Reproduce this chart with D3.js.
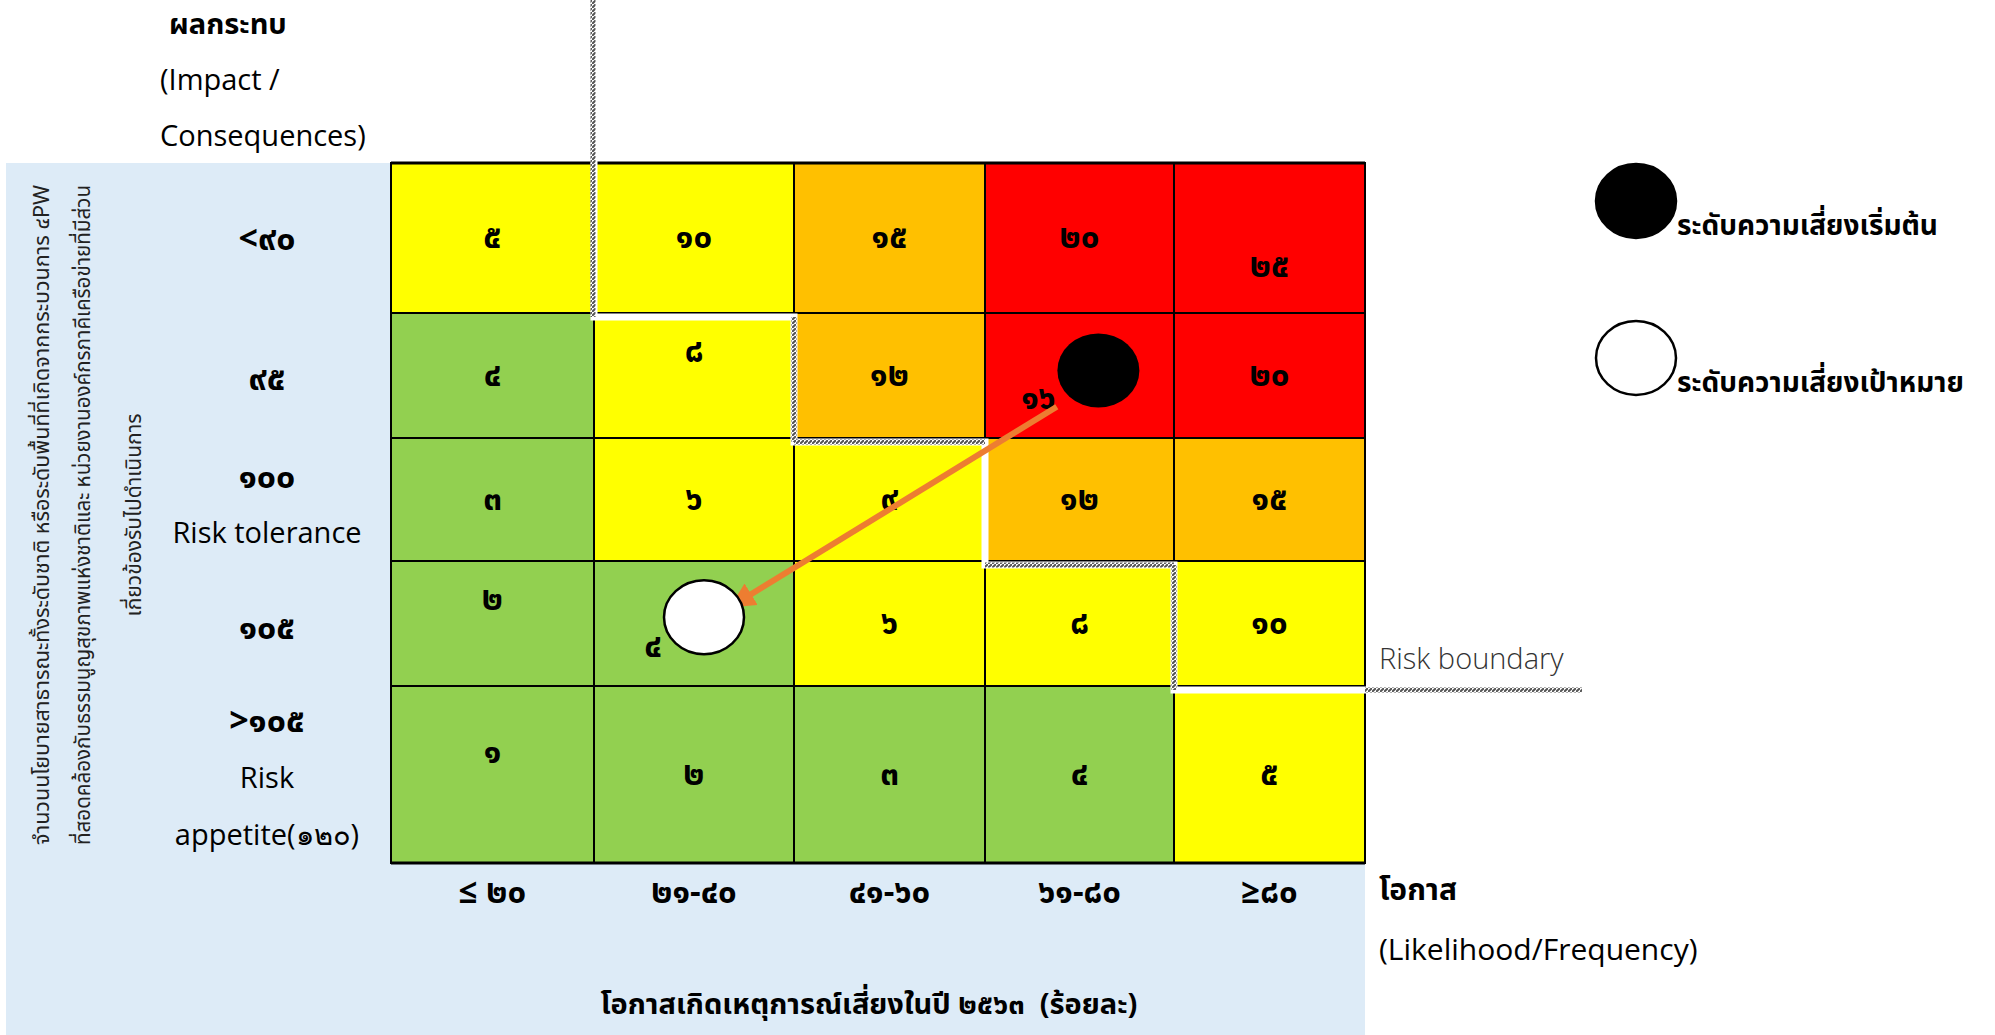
<!DOCTYPE html>
<html>
<head>
<meta charset="utf-8">
<script src="https://cdn.jsdelivr.net/npm/d3@7"></script>
<style>
body { margin: 0; background: #fff; }
svg { display: block; }
</style>
</head>
<body>
<script>
// Data read from the risk matrix
var likelihoodLabels = ["≤ ๒๐", "๒๑-๔๐", "๔๑-๖๐", "๖๑-๘๐", "≥๘๐"];
var impactLabels = [["<๙๐"], ["๙๕"], ["๑๐๐", "Risk tolerance"], ["๑๐๕"], [">๑๐๕", "Risk", "appetite(๑๒๐)"]];
var scoreRows = [
    ["๕", "๑๐", "๑๕", "๒๐", "๒๕"],
    ["๔", "๘", "๑๒", "๑๖", "๒๐"],
    ["๓", "๖", "๙", "๑๒", "๑๕"],
    ["๒", "๔", "๖", "๘", "๑๐"],
    ["๑", "๒", "๓", "๔", "๕"]
];
var levelRows = [
    ["medium", "medium", "high", "veryhigh", "veryhigh"],
    ["low", "medium", "high", "veryhigh", "veryhigh"],
    ["low", "medium", "medium", "high", "high"],
    ["low", "low", "medium", "medium", "medium"],
    ["low", "low", "low", "low", "medium"]
];
// risk positions in (likelihood column, impact row) units
var startRisk = { col: 3.60, row: 1.46 };
var targetRisk = { col: 1.55, row: 3.45 };
var arrowFrom = { col: 3.38, row: 1.75 };
var arrowTo = { col: 1.70, row: 3.35 };
// corners of the risk boundary staircase
var boundarySteps = [[1, 1], [2, 2], [3, 3], [4, 4]];

var yAxisText = [
    "จำนวนนโยบายสาธารณะทั้งระดับชาติ หรือระดับพื้นที่ที่เกิดจากกระบวนการ ๔PW",
    "ที่สอดคล้องกับธรรมนูญสุขภาพแห่งชาติและ หน่วยงานองค์กรภาคีเครือข่ายที่มีส่วน",
    "เกี่ยวข้องรับไปดำเนินการ"
];

// label nudges (pixels) for cells whose number is not centred
var labelNudge = { "0-4": [0, 29], "1-1": [0, -24], "1-3": [-41, 23], "3-0": [0, -24], "3-1": [-41, 23], "4-0": [0, -22] };

var levelColor = { low: "#92D050", medium: "#FFFF00", high: "#FFC000", veryhigh: "#FF0000" };

var W = 1995, H = 1035;
var thaiFont = "'Noto Sans Thai', 'Noto Sans', 'Open Sans', sans-serif";
var latinFont = "'Open Sans', 'Noto Sans', sans-serif";

var svg = d3.select("body").append("svg")
    .attr("width", W)
    .attr("height", H);

// piecewise scales: column and row boundaries of the matrix
var x = d3.scaleLinear().domain([0, 1, 2, 3, 4, 5]).range([391, 594, 794, 985, 1174, 1365]);
var y = d3.scaleLinear().domain([0, 1, 2, 3, 4, 5]).range([163, 313, 438, 561, 686, 863]);

// hatch pattern used for the boundary line
var defs = svg.append("defs");
var hatch = defs.append("pattern")
    .attr("id", "hatch")
    .attr("patternUnits", "userSpaceOnUse")
    .attr("width", 4).attr("height", 4);
hatch.append("rect").attr("width", 4).attr("height", 4).attr("fill", "#fff");
hatch.append("path").attr("d", "M-1,5 L5,-1").attr("stroke", "#555").attr("stroke-width", 2);

defs.append("marker")
    .attr("id", "arrowhead")
    .attr("viewBox", "0 0 10 10")
    .attr("refX", 8).attr("refY", 5)
    .attr("markerWidth", 4.2).attr("markerHeight", 4.2)
    .attr("orient", "auto")
    .append("path")
    .attr("d", "M0,0 L10,5 L0,10 z")
    .attr("fill", "#ED7D31");

// light blue background panel
svg.append("rect")
    .attr("x", 6).attr("y", y(0))
    .attr("width", x(5) - 6).attr("height", H - y(0))
    .attr("fill", "#DDEBF7");

// cells
var cells = [];
scoreRows.forEach(function (row, r) {
    row.forEach(function (s, c) {
        cells.push({ r: r, c: c, score: s, level: levelRows[r][c] });
    });
});

var cell = svg.selectAll("g.cell")
    .data(cells)
    .enter().append("g")
    .attr("class", "cell");

cell.append("rect")
    .attr("x", function (d) { return x(d.c); })
    .attr("y", function (d) { return y(d.r); })
    .attr("width", function (d) { return x(d.c + 1) - x(d.c); })
    .attr("height", function (d) { return y(d.r + 1) - y(d.r); })
    .attr("fill", function (d) { return levelColor[d.level]; })
    .attr("stroke", "#000")
    .attr("stroke-width", 2);

cell.append("text")
    .attr("x", function (d) {
        var n = labelNudge[d.r + "-" + d.c] || [0, 0];
        return (x(d.c) + x(d.c + 1)) / 2 + n[0];
    })
    .attr("y", function (d) {
        var n = labelNudge[d.r + "-" + d.c] || [0, 0];
        return (y(d.r) + y(d.r + 1)) / 2 + n[1];
    })
    .attr("text-anchor", "middle")
    .attr("dominant-baseline", "central")
    .style("font-family", thaiFont)
    .style("font-weight", "bold")
    .style("font-size", "33px")
    .text(function (d) { return d.score; });

// heavier top and bottom edges of the matrix
[0, 5].forEach(function (i) {
    svg.append("line")
        .attr("x1", x(0)).attr("x2", x(5))
        .attr("y1", y(i)).attr("y2", y(i))
        .attr("stroke", "#000").attr("stroke-width", 3);
});

// risk boundary: white line with grey hatching
var bx = function (c) { return x(c); };
var by = function (r) { return y(r) + 4; };
var boundaryPts = [[bx(1), 0]];
boundarySteps.forEach(function (s, i) {
    boundaryPts.push([bx(s[0]), by(s[1])]);
    var next = boundarySteps[i + 1];
    if (next) boundaryPts.push([bx(next[0]), by(s[1])]);
});
boundaryPts.push([x(5) + 217, by(4)]);

var line = d3.line();
svg.append("path")
    .attr("d", line(boundaryPts))
    .attr("fill", "none")
    .attr("stroke", "#fff")
    .attr("stroke-width", 7);

// hatched segments (vertical parts and some horizontal parts)
var hatched = [
    [[bx(1) - 1, 0], [bx(1) - 1, by(1)]],
    [[bx(2), by(1)], [bx(2), by(2)]],
    [[bx(2), by(2)], [bx(3), by(2)]],
    [[bx(3), by(3)], [bx(4), by(3)]],
    [[bx(4), by(3)], [bx(4), by(4)]],
    [[x(5), by(4)], [x(5) + 217, by(4)]]
];
hatched.forEach(function (seg) {
    svg.append("path")
        .attr("d", line(seg))
        .attr("fill", "none")
        .attr("stroke", "url(#hatch)")
        .attr("stroke-width", 5);
});

// arrow from initial to target risk
svg.append("line")
    .attr("x1", x(arrowFrom.col)).attr("y1", y(arrowFrom.row))
    .attr("x2", x(arrowTo.col)).attr("y2", y(arrowTo.row))
    .attr("stroke", "#ED7D31")
    .attr("stroke-width", 6)
    .attr("marker-end", "url(#arrowhead)");

// risk points
svg.append("ellipse")
    .attr("cx", x(startRisk.col)).attr("cy", y(startRisk.row))
    .attr("rx", 41).attr("ry", 37)
    .attr("fill", "#000");

svg.append("ellipse")
    .attr("cx", x(targetRisk.col)).attr("cy", y(targetRisk.row))
    .attr("rx", 40).attr("ry", 37)
    .attr("fill", "#fff")
    .attr("stroke", "#000")
    .attr("stroke-width", 2.5);

// impact labels (left column)
var impactLabelY = [[239], [379], [477, 531], [628], [721, 776, 833]];
impactLabels.forEach(function (lines, r) {
    lines.forEach(function (t, j) {
        var latin = /[a-z]/.test(t);
        svg.append("text")
            .attr("x", 267)
            .attr("y", impactLabelY[r][j])
            .attr("text-anchor", "middle")
            .attr("dominant-baseline", "central")
            .style("font-family", latin ? latinFont : thaiFont)
            .style("font-weight", latin ? "normal" : "bold")
            .style("font-size", latin ? "29px" : "34px")
            .text(t);
    });
});

// likelihood labels (bottom)
svg.selectAll("text.xlab")
    .data(likelihoodLabels)
    .enter().append("text")
    .attr("class", "xlab")
    .attr("x", function (d, i) { return (x(i) + x(i + 1)) / 2; })
    .attr("y", 893)
    .attr("text-anchor", "middle")
    .attr("dominant-baseline", "central")
    .style("font-family", thaiFont)
    .style("font-weight", "bold")
    .style("font-size", "33px")
    .text(function (d) { return d; });

// rotated y-axis description
svg.selectAll("text.ydesc")
    .data(yAxisText)
    .enter().append("text")
    .attr("class", "ydesc")
    .attr("transform", function (d, i) { return "translate(" + [42, 83, 134][i] + ",515) rotate(-90)"; })
    .attr("text-anchor", "middle")
    .attr("dominant-baseline", "central")
    .attr("textLength", function (d, i) { return i < 2 ? 660 : null; })
    .attr("lengthAdjust", "spacingAndGlyphs")
    .style("font-family", thaiFont)
    .style("font-size", "21px")
    .style("fill", "#222")
    .text(function (d) { return d; });

// axis titles
function addText(t, px, py, opts) {
    svg.append("text")
        .attr("x", px).attr("y", py)
        .attr("text-anchor", opts.anchor || "start")
        .attr("dominant-baseline", "central")
        .style("font-family", opts.font || latinFont)
        .style("font-weight", opts.weight || "normal")
        .style("font-size", (opts.size || 29) + "px")
        .style("fill", opts.fill || "#000")
        .style("white-space", "pre")
        .text(t);
}
addText("ผลกระทบ", 169, 25, { font: thaiFont, weight: "bold", size: 29 });
addText("(Impact /", 160, 78, {});
addText("Consequences)", 160, 134, {});
addText("โอกาสเกิดเหตุการณ์เสี่ยงในปี ๒๕๖๓  (ร้อยละ)", 869, 1005, { font: thaiFont, weight: "bold", anchor: "middle", size: 29 });
addText("โอกาส", 1379, 891, { font: thaiFont, weight: "bold", size: 30 });
addText("(Likelihood/Frequency)", 1379, 948, { size: 30 });
addText("Risk boundary", 1379, 657, { weight: 300, fill: "#333" });

// legend
var legendItems = [
    { label: "ระดับความเสี่ยงเริ่มต้น", fill: "#000", cy: 201, ty: 226 },
    { label: "ระดับความเสี่ยงเป้าหมาย", fill: "#fff", cy: 358, ty: 383 }
];
legendItems.forEach(function (d) {
    svg.append("ellipse")
        .attr("cx", 1636).attr("cy", d.cy)
        .attr("rx", 40).attr("ry", 37)
        .attr("fill", d.fill)
        .attr("stroke", "#000").attr("stroke-width", 2.5);
    addText(d.label, 1677, d.ty, { font: thaiFont, weight: "bold", size: 28 });
});
</script>
</body>
</html>
